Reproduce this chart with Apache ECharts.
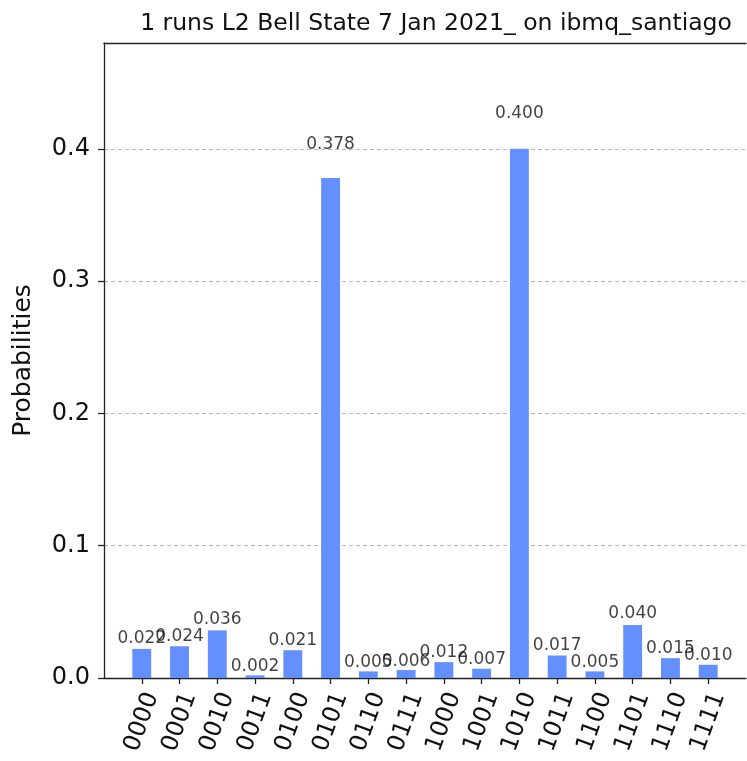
<!DOCTYPE html>
<html>
<head>
<meta charset="utf-8">
<script src="https://cdn.jsdelivr.net/npm/echarts@6/dist/echarts.min.js"></script>
<style>
  html, body { margin: 0; padding: 0; background: #ffffff; }
  #chart { width: 747px; height: 761px; }
</style>
</head>
<body>
<div id="chart"></div>
<script>
// Measured outcome probabilities for each 4-qubit basis state
const states = ['0000', '0001', '0010', '0011', '0100', '0101', '0110', '0111',
                '1000', '1001', '1010', '1011', '1100', '1101', '1110', '1111'];
const probabilities = [0.022, 0.024, 0.036, 0.002, 0.021, 0.378, 0.005, 0.006,
                       0.012, 0.007, 0.400, 0.017, 0.005, 0.040, 0.015, 0.010];
const yTicks = [0.0, 0.1, 0.2, 0.3, 0.4];
const chartTitle = '1 runs L2 Bell State 7 Jan 2021_ on ibmq_santiago';
const yName = 'Probabilities';

// One empty slot on each side leaves a full bar spacing between the outer bars and the frame
const cats = [''].concat(states, ['']);
const barData = [null].concat(probabilities, [null]);
// Value labels sit at 1.05 x the bar height
const labelData = [null].concat(probabilities.map(v => ({ value: v * 1.05, raw: v })), [null]);

const FONT = 'DejaVu Sans';
const AXIS_COLOR = '#222222';

const chart = echarts.init(document.getElementById('chart'), null, { renderer: 'canvas' });
chart.setOption({
  animation: false,
  backgroundColor: '#ffffff',
  title: {
    text: chartTitle,
    left: 431,
    top: 7,
    textAlign: 'center',
    textStyle: { fontFamily: FONT, fontSize: 23.5, fontWeight: 'normal', color: '#111111' }
  },
  grid: { left: 104, top: 43, width: 652, height: 635, containLabel: false },
  xAxis: [{
    type: 'category',
    data: cats,
    boundaryGap: false,
    axisLine: { lineStyle: { color: AXIS_COLOR, width: 1.3 } },
    axisTick: {
      show: true, length: 6, inside: false,
      interval: (idx) => idx > 0 && idx < cats.length - 1,
      lineStyle: { color: AXIS_COLOR, width: 1.3 }
    },
    axisLabel: {
      interval: 0,
      rotate: 70,
      margin: 44,
      align: 'center',
      verticalAlign: 'middle',
      fontFamily: FONT,
      fontSize: 24,
      color: '#111111'
    },
    splitLine: { show: false }
  }, {
    type: 'category',
    data: cats,
    position: 'top',
    boundaryGap: false,
    axisLine: { show: true, lineStyle: { color: AXIS_COLOR, width: 1.3 } },
    axisTick: { show: false },
    axisLabel: { show: false },
    splitLine: { show: false }
  }],
  yAxis: {
    type: 'value',
    min: 0,
    max: 0.48,
    interval: 0.1,
    name: yName,
    nameLocation: 'middle',
    nameRotate: 90,
    nameGap: 68,
    nameTextStyle: { fontFamily: FONT, fontSize: 25, color: '#111111' },
    axisLine: { show: true, lineStyle: { color: AXIS_COLOR, width: 1.3 } },
    axisTick: {
      show: true, length: 6, inside: false,
      customValues: yTicks,
      lineStyle: { color: AXIS_COLOR, width: 1.3 }
    },
    axisLabel: {
      customValues: yTicks,
      margin: 14,
      formatter: (v) => Number(v).toFixed(1),
      fontFamily: FONT,
      fontSize: 24,
      color: '#111111'
    },
    splitLine: {
      show: true,
      lineStyle: { color: '#b8b8b8', width: 1, type: [4, 3] }
    }
  },
  series: [{
    type: 'bar',
    xAxisIndex: 0,
    data: barData,
    barWidth: '50%',
    itemStyle: { color: '#648fff' },
    z: 3
  }, {
    type: 'scatter',
    xAxisIndex: 0,
    data: labelData,
    symbolSize: 0,
    silent: true,
    z: 4,
    label: {
      show: true,
      position: 'top',
      distance: 0,
      formatter: (p) => p.data.raw.toFixed(3),
      fontFamily: FONT,
      fontSize: 17,
      color: '#111111'
    }
  }]
});
</script>
</body>
</html>
